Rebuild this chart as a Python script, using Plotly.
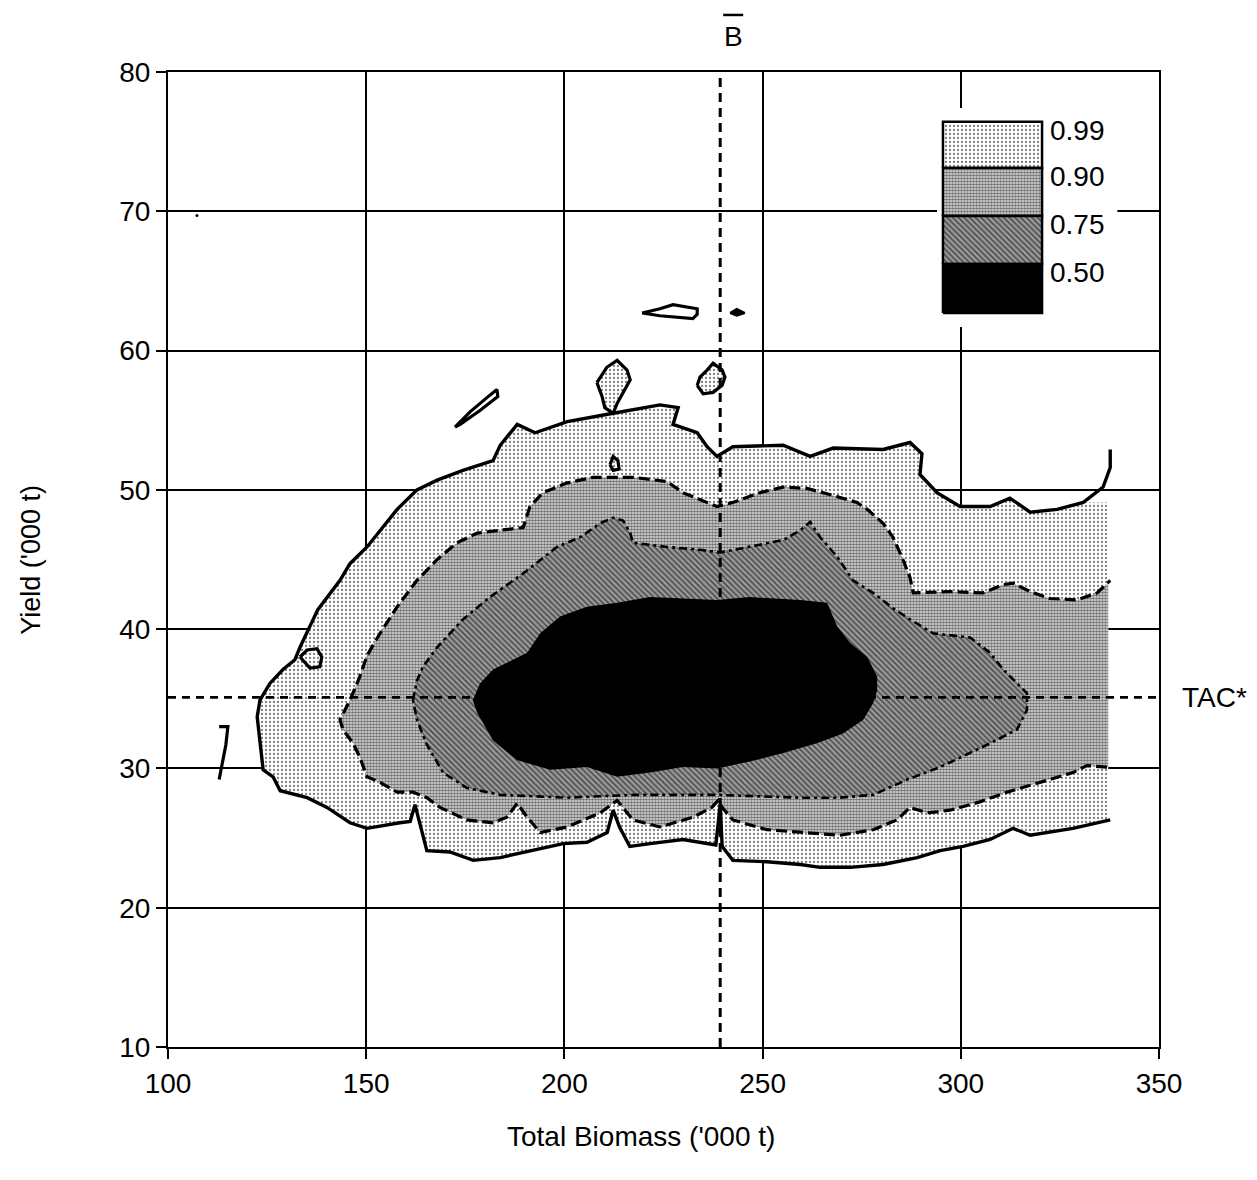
import plotly.graph_objects as go

# ---- probability contours: Yield vs Total Biomass ('000 t) ----
LEVELS = ["0.99", "0.90", "0.75", "0.50"]

# 0.99 contour: upper edge (left tip -> right data edge), its curl past the edge, lower edge
C99_UPPER = [(122.5, 33.7), (123.2, 34.9), (125.7, 36.1), (129.0, 37.1), (132.0, 37.8), (133.3, 38.7),
             (137.8, 41.4), (143.4, 43.5), (145.9, 44.7), (150.2, 45.9), (154.2, 47.3), (157.8, 48.6),
             (162.8, 50.0), (167.9, 50.7), (174.4, 51.4), (182.0, 52.1), (183.8, 53.2), (188.1, 54.7),
             (192.6, 54.1), (200.7, 54.9), (212.3, 55.5), (224.1, 56.1), (228.7, 55.9), (227.4, 54.7),
             (233.5, 54.1), (236.0, 53.1), (238.5, 52.4), (242.5, 53.1), (255.2, 53.2), (259.5, 52.7),
             (262.0, 52.4), (267.8, 53.0), (280.4, 52.9), (287.2, 53.4), (290.2, 52.6), (289.7, 51.1),
             (294.0, 49.8), (299.8, 48.8), (307.4, 48.8), (312.4, 49.4), (317.5, 48.4), (324.3, 48.6),
             (330.9, 49.1)]
C99_TAIL = [(335.9, 50.2), (337.7, 51.6), (337.7, 52.9)]
C99_LOWER = [(122.5, 33.7), (123.2, 31.8), (124.0, 29.9), (126.5, 29.4), (128.3, 28.4), (135.1, 27.9),
             (140.1, 27.2), (145.9, 26.1), (150.2, 25.7), (158.5, 26.1), (161.1, 26.2), (162.3, 27.4),
             (163.6, 25.9), (165.3, 24.1), (171.1, 24.0), (177.0, 23.4), (183.8, 23.6), (192.1, 24.1),
             (199.7, 24.6), (205.7, 24.7), (210.8, 25.4), (212.3, 27.0), (213.9, 25.8), (216.5, 24.4),
             (221.6, 24.6), (229.9, 24.9), (238.2, 24.5), (239.3, 27.4), (239.8, 24.4), (242.5, 23.4),
             (251.1, 23.3), (259.5, 23.1), (264.5, 22.9), (272.1, 22.9), (280.4, 23.1), (289.0, 23.6),
             (294.8, 24.1), (300.6, 24.4), (307.4, 24.9), (313.2, 25.7), (317.5, 25.2), (328.3, 25.7),
             (337.7, 26.3)]
DATA_EDGE = 337.2  # largest biomass in the simulation grid

# 0.90 contour
C90_UPPER = [(143.4, 33.5), (145.9, 34.9), (148.4, 36.6), (150.2, 38.1), (153.5, 39.7), (157.8, 41.6),
             (162.8, 43.5), (167.9, 45.0), (172.9, 46.2), (178.0, 46.9), (183.8, 47.1), (189.6, 47.3),
             (191.3, 48.8), (194.6, 49.8), (200.7, 50.5), (207.2, 50.9), (217.3, 50.9), (225.9, 50.6),
             (229.9, 49.8), (234.2, 49.3), (238.5, 48.8), (242.5, 49.1), (249.4, 49.8), (255.2, 50.2),
             (261.2, 50.1), (267.8, 49.6), (273.8, 49.1), (276.4, 48.6), (280.4, 47.6), (282.9, 46.6),
             (285.4, 45.0), (287.2, 43.7), (288.0, 42.6), (297.3, 42.7), (305.6, 42.6), (310.7, 43.2),
             (313.2, 43.3), (317.5, 42.7), (322.5, 42.2), (329.3, 42.1), (334.4, 42.6), (337.7, 43.5)]
C90_LOWER = [(143.4, 33.5), (144.1, 32.8), (146.7, 31.8), (148.4, 30.8), (150.2, 29.4), (153.5, 29.0),
             (157.8, 28.3), (161.8, 28.3), (165.3, 27.9), (168.6, 27.2), (175.4, 26.3), (182.0, 26.1),
             (185.5, 26.5), (188.1, 27.5), (190.6, 26.5), (193.9, 25.4), (200.7, 25.8), (209.0, 26.8),
             (213.3, 27.7), (217.3, 26.3), (224.1, 25.8), (232.5, 26.5), (237.2, 27.2), (238.8, 27.7),
             (239.8, 27.2), (242.5, 26.3), (251.1, 25.6), (259.4, 25.4), (269.5, 25.2), (277.9, 25.6),
             (283.9, 26.3), (287.2, 27.2), (291.5, 26.8), (297.3, 27.0), (304.8, 27.6), (311.7, 28.3),
             (320.0, 29.0), (328.3, 29.7), (331.8, 30.2), (336.9, 30.1)]

# 0.75 contour (closed)
C75 = [(161.8, 34.9), (162.8, 36.3), (164.3, 37.3), (167.9, 38.7), (174.4, 40.7), (181.2, 42.3),
       (189.6, 44.0), (198.1, 45.9), (204.0, 46.6), (209.0, 47.6), (212.3, 48.0), (214.8, 47.8),
       (216.6, 46.9), (217.3, 46.2), (225.9, 45.9), (234.2, 45.7), (239.3, 45.5), (246.8, 45.9),
       (255.2, 46.4), (259.5, 47.1), (262.0, 47.7), (264.5, 46.6), (268.8, 45.2), (272.8, 43.5),
       (277.9, 42.6), (282.9, 41.5), (287.2, 40.7), (293.0, 39.7), (302.3, 39.4), (307.4, 38.3),
       (310.7, 37.1), (314.2, 36.1), (316.7, 35.4), (316.7, 34.2), (314.2, 32.8), (307.4, 31.8),
       (299.8, 30.8), (294.8, 30.1), (286.5, 29.2), (277.9, 28.1), (269.5, 27.9), (259.5, 27.9),
       (238.5, 28.1), (217.3, 28.1), (200.7, 27.9), (183.8, 28.1), (175.4, 28.6), (169.4, 29.7),
       (165.3, 31.7), (162.8, 33.5), (161.8, 34.9)]

# 0.50 contour (closed)
C50 = [(176.9, 34.9), (178.7, 36.1), (182.0, 37.1), (185.5, 37.6), (190.6, 38.3), (193.9, 39.7),
       (198.9, 40.9), (205.7, 41.6), (213.3, 41.9), (221.6, 42.3), (229.9, 42.2), (238.5, 42.1),
       (246.8, 42.3), (259.5, 42.1), (266.3, 41.9), (268.8, 40.2), (272.1, 39.0), (276.4, 38.0),
       (278.9, 36.6), (278.9, 35.6), (277.9, 34.7), (275.4, 33.5), (270.3, 32.5), (263.7, 31.8),
       (255.2, 31.1), (246.8, 30.5), (238.5, 30.0), (229.9, 30.1), (221.6, 29.7), (213.3, 29.4),
       (205.7, 30.1), (196.4, 29.9), (188.0, 30.6), (182.0, 32.0), (178.0, 34.0), (176.9, 34.9)]

# small detached 0.99 islands
ISLAND_A = [(208.2, 57.7), (210.7, 58.8), (213.3, 59.3), (215.8, 58.6), (216.6, 57.9), (214.8, 57.0),
            (213.3, 56.2), (212.3, 55.5), (210.2, 55.9), (209.5, 56.7), (208.2, 57.7)]
ISLAND_B = [(233.5, 57.5), (234.2, 58.1), (236.0, 58.6), (237.5, 59.1), (239.8, 58.6), (240.5, 58.1),
            (239.8, 57.5), (237.5, 57.0), (235.0, 56.9), (233.5, 57.5)]
LOOP_C = [(219.6, 62.7), (224.1, 63.0), (227.4, 63.3), (233.5, 63.0), (233.5, 62.6), (232.4, 62.3),
          (224.1, 62.5), (219.6, 62.7)]
BLOB_D = [(241.8, 62.7), (243.5, 63.0), (245.5, 62.7), (243.5, 62.5), (241.8, 62.7)]
LOOP_E = [(172.4, 54.5), (176.2, 55.6), (181.2, 56.8), (183.0, 57.2), (183.2, 56.7), (178.7, 55.7),
          (173.7, 54.7), (172.4, 54.5)]
LOOP_F = [(211.5, 51.8), (212.3, 52.4), (213.5, 52.1), (213.8, 51.5), (212.3, 51.4), (211.5, 51.8)]
LOOP_G = [(133.3, 38.0), (135.1, 38.5), (137.6, 38.6), (138.8, 38.0), (138.3, 37.3), (135.8, 37.2),
          (133.3, 38.0)]
HOOK_H = [(112.9, 33.0), (115.1, 33.0), (114.6, 31.7), (113.6, 30.2), (112.9, 29.2)]
SPECK = (107.3, 69.7)

B_BAR = 239.3      # mean biomass
TAC_STAR = 35.1    # TAC*

X_TICKS = [100, 150, 200, 250, 300, 350]
Y_TICKS = [10, 20, 30, 40, 50, 60, 70, 80]

FONT = "Liberation Sans, Arial, Helvetica, sans-serif"
FSIZE = 28

PATTERNS = {
    "0.99": dict(shape=".", fgcolor="black", bgcolor="white", size=4, solidity=0.25),
    "0.90": dict(shape=".", fgcolor="black", bgcolor="#e6e6e6", size=3, solidity=0.62),
    "0.75": dict(shape="\\", fgcolor="black", bgcolor="#9c9c9c", size=4, solidity=0.45),
}


def xs(pts):
    return [p[0] for p in pts]


def ys(pts):
    return [p[1] for p in pts]


def region(pts, level, **kw):
    if level == "0.50":
        return go.Scatter(x=xs(pts), y=ys(pts), mode="lines", fill="toself", fillcolor="black",
                          line=dict(width=0), hoverinfo="skip", showlegend=False, **kw)
    return go.Scatter(x=xs(pts), y=ys(pts), mode="lines", fill="toself", fillpattern=PATTERNS[level],
                      line=dict(width=0), hoverinfo="skip", showlegend=False, **kw)


def outline(pts, dash="solid", width=3, **kw):
    return go.Scatter(x=xs(pts), y=ys(pts), mode="lines",
                      line=dict(color="black", width=width, dash=dash),
                      hoverinfo="skip", showlegend=False, **kw)


fig = go.Figure()

# filled bands, outermost first
fill99 = C99_UPPER + [(DATA_EDGE, C99_UPPER[-1][1]), (DATA_EDGE, C99_LOWER[-1][1])] + C99_LOWER[::-1]
fill90 = C90_UPPER + [(DATA_EDGE, C90_UPPER[-1][1]), (DATA_EDGE, C90_LOWER[-1][1])] + C90_LOWER[::-1]
fig.add_trace(region(fill99, "0.99"))
fig.add_trace(region(ISLAND_A, "0.99"))
fig.add_trace(region(ISLAND_B, "0.99"))
fig.add_trace(region(fill90, "0.90"))
fig.add_trace(region(C75, "0.75"))
fig.add_trace(region(C50, "0.50"))

# contour lines
fig.add_trace(outline(C99_LOWER[::-1] + C99_UPPER[1:] + C99_TAIL, "solid", 3.4))
fig.add_trace(outline(C90_LOWER[::-1] + C90_UPPER[1:], "11px,5px", 3.2))
fig.add_trace(outline(C75, "8px,4px,3px,4px", 2.6))
for isl in (ISLAND_A, ISLAND_B, LOOP_C, LOOP_E, LOOP_F, LOOP_G):
    fig.add_trace(outline(isl, "solid", 3.2))
fig.add_trace(outline(HOOK_H, "solid", 3.2))
fig.add_trace(go.Scatter(x=xs(BLOB_D), y=ys(BLOB_D), mode="lines", fill="toself", fillcolor="black",
                         line=dict(color="black", width=2), hoverinfo="skip", showlegend=False))
fig.add_trace(go.Scatter(x=[SPECK[0]], y=[SPECK[1]], mode="markers",
                         marker=dict(color="black", size=3), hoverinfo="skip", showlegend=False))

# reference lines: mean biomass and TAC*
fig.add_trace(go.Scatter(x=[B_BAR, B_BAR], y=[10, 80], mode="lines",
                         line=dict(color="black", width=3, dash="9px,6px"),
                         hoverinfo="skip", showlegend=False, cliponaxis=False))
fig.add_trace(go.Scatter(x=[100, 350], y=[TAC_STAR, TAC_STAR], mode="lines",
                         line=dict(color="black", width=2.6, dash="8px,6px"),
                         hoverinfo="skip", showlegend=False))

# key: swatches on a unit overlay axis
KEY_X = (0.782, 0.882)
KEY_EDGES = [0.949, 0.9015, 0.8523, 0.8031, 0.7528]
KEY_BG = dict(x0=0.776, x1=0.958, y0=0.7385, y1=0.963)
fig.add_trace(go.Scatter(x=[KEY_BG["x0"], KEY_BG["x1"], KEY_BG["x1"], KEY_BG["x0"], KEY_BG["x0"]],
                         y=[KEY_BG["y0"], KEY_BG["y0"], KEY_BG["y1"], KEY_BG["y1"], KEY_BG["y0"]],
                         mode="lines", fill="toself", fillcolor="white", line=dict(width=0),
                         xaxis="x2", yaxis="y2", hoverinfo="skip", showlegend=False))
for i, lev in enumerate(LEVELS):
    top, bot = KEY_EDGES[i], KEY_EDGES[i + 1]
    box = [(KEY_X[0], bot), (KEY_X[1], bot), (KEY_X[1], top), (KEY_X[0], top), (KEY_X[0], bot)]
    tr = region(box, lev, xaxis="x2", yaxis="y2")
    tr.line = dict(color="black", width=2.5)
    fig.add_trace(tr)
    fig.add_annotation(x=0.888, y=top - 0.009, xref="paper", yref="paper", text=lev,
                       showarrow=False, xanchor="left", yanchor="middle",
                       font=dict(family=FONT, size=FSIZE, color="black"))

axis_common = dict(showgrid=True, gridcolor="black", gridwidth=1.6, showline=True, linecolor="black",
                   linewidth=2, mirror=True, ticks="outside", ticklen=10, tickwidth=2,
                   tickcolor="black", zeroline=False,
                   tickfont=dict(family=FONT, size=FSIZE, color="black"))

fig.update_layout(
    width=1257, height=1180,
    margin=dict(l=168, r=98, t=72, b=133),
    paper_bgcolor="white", plot_bgcolor="white",
    xaxis=dict(range=[100, 350], tickvals=X_TICKS, **axis_common),
    yaxis=dict(range=[10, 80], tickvals=Y_TICKS, **axis_common),
    xaxis2=dict(range=[0, 1], overlaying="x", visible=False, fixedrange=True),
    yaxis2=dict(range=[0, 1], overlaying="y", visible=False, fixedrange=True),
    showlegend=False,
)

# axis titles and labels
fig.add_annotation(x=0.477, y=-0.0923, xref="paper", yref="paper", text="Total Biomass ('000 t)",
                   showarrow=False, xanchor="center", yanchor="middle",
                   font=dict(family=FONT, size=FSIZE, color="black"))
fig.add_annotation(x=-0.139, y=0.5, xref="paper", yref="paper", text="Yield ('000 t)",
                   showarrow=False, textangle=-90, xanchor="center", yanchor="middle",
                   font=dict(family=FONT, size=FSIZE - 1, color="black"))
fig.add_annotation(x=B_BAR, y=1.036, xref="x", yref="paper", text="B", xshift=13,
                   showarrow=False, xanchor="center", yanchor="middle",
                   font=dict(family=FONT, size=FSIZE, color="black"))
fig.add_shape(type="line", xref="x", xsizemode="pixel", xanchor=B_BAR, x0=3, x1=23,
              yref="paper", y0=1.0585, y1=1.0585, line=dict(color="black", width=2.5))
fig.add_annotation(x=1.021, y=TAC_STAR, xref="paper", yref="y", text="TAC*",
                   showarrow=False, xanchor="left", yanchor="middle",
                   font=dict(family=FONT, size=FSIZE, color="black"))

fig.write_html("out.html")
